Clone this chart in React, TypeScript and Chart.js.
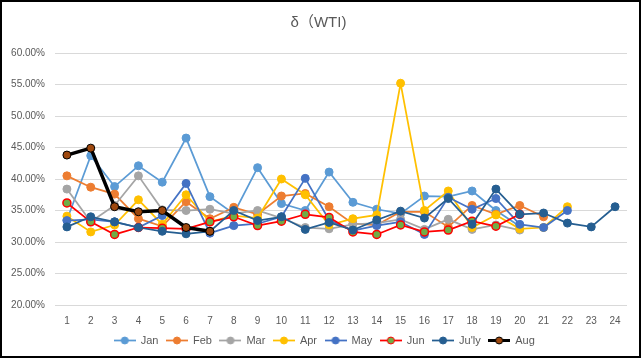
import React, { useEffect, useRef } from "react";
import { Chart, registerables } from "chart.js";

Chart.register(...registerables);

const categories = ["1","2","3","4","5","6","7","8","9","10","11","12","13","14","15","16","17","18","19","20","21","22","23","24"];

const jan = [33.5, 43.7, 38.8, 42.1, 39.5, 46.5, 37.2, 34.5, 41.8, 36.1, 35.0, 41.1, 36.3, 35.2, 34.5, 37.3, 37.2, 38.1, 35.0, 32.5];
const feb = [40.5, 38.7, 37.6, 33.7, 32.5, 36.4, 33.7, 35.5, 34.4, 37.3, 37.7, 35.6, 32.9, 32.7, 34.8, 34.8, 32.4, 35.8, 34.4, 35.8, 34.0];
const mar = [38.4, 33.2, 35.8, 40.5, 35.1, 35.0, 35.2, 34.5, 35.0, 33.8, 32.3, 32.1, 32.8, 33.0, 33.6, 32.0, 33.6, 32.0, 32.7, 31.9];
const apr = [34.1, 31.6, 32.7, 36.7, 32.8, 37.5, 33.2, 34.2, 33.8, 40.0, 37.5, 32.7, 33.7, 34.3, 55.2, 35.0, 38.1, 32.3, 34.3, 32.1, 32.3, 35.6];
const may = [33.4, 33.6, 33.2, 32.3, 34.2, 39.3, 31.4, 32.6, 32.9, 34.0, 40.1, 33.5, 31.8, 32.6, 33.2, 31.2, 37.1, 35.2, 36.9, 32.8, 32.3, 35.0];
const jun = [36.2, 33.2, 31.2, 32.3, 32.2, 32.1, 33.2, 34.0, 32.6, 33.3, 34.4, 33.9, 31.6, 31.2, 32.7, 31.6, 31.9, 33.3, 32.5, 34.4];
const jul = [32.4, 34.0, 33.2, 32.3, 31.7, 31.3, 31.7, 35.0, 33.4, 34.0, 32.0, 33.1, 31.9, 33.5, 34.9, 33.8, 36.9, 32.8, 38.4, 34.4, 34.6, 33.0, 32.4, 35.6];
const aug = [43.8, 44.9, 35.6, 34.8, 35.0, 32.3, 31.7];

const seriesLabels = ["Jan", "Feb", "Mar", "Apr", "May", "Jun", "Ju'ly", "Aug"];
const seriesValues = [jan, feb, mar, apr, may, jun, jul, aug];
const lineColors = ["#5B9BD5", "#ED7D31", "#A5A5A5", "#FFC000", "#4472C4", "#FF0000", "#255E91", "#000000"];
const markerFills = ["#5B9BD5", "#ED7D31", "#A5A5A5", "#FFC000", "#4472C4", "#70AD47", "#255E91", "#9E480E"];
const markerBorders = ["#5B9BD5", "#ED7D31", "#A5A5A5", "#FFC000", "#4472C4", "#FF0000", "#255E91", "#000000"];
const lineWidths = [1.75, 1.75, 1.75, 1.75, 1.75, 1.75, 1.75, 3.5];

const yMin = 20;
const yMax = 60;
const yStep = 5;

const FONT = "'Liberation Sans', 'Noto Sans', 'Noto Sans CJK SC', sans-serif";
const TEXT = "#595959";

function makeLegendImage(i: number): HTMLCanvasElement {
  const c = document.createElement("canvas");
  c.width = 22;
  c.height = 11;
  const ctx = c.getContext("2d")!;
  ctx.strokeStyle = lineColors[i];
  ctx.lineWidth = i === 7 ? 3 : 1.75;
  ctx.beginPath();
  ctx.moveTo(0, 5.5);
  ctx.lineTo(22, 5.5);
  ctx.stroke();
  ctx.beginPath();
  ctx.arc(11, 5.5, 3.5, 0, Math.PI * 2);
  ctx.fillStyle = markerFills[i];
  ctx.fill();
  ctx.lineWidth = 1;
  ctx.strokeStyle = markerBorders[i];
  ctx.stroke();
  return c;
}

export default function App() {
  const ref = useRef<HTMLCanvasElement>(null);

  useEffect(() => {
    if (!ref.current) return;
    const imgs = seriesLabels.map((_, i) => makeLegendImage(i));
    const frame = {
      id: "frame",
      beforeDraw(chart: any) {
        const ctx = chart.ctx;
        ctx.save();
        ctx.fillStyle = "#ffffff";
        ctx.fillRect(0, 0, chart.width, chart.height);
        ctx.restore();
      },
      afterLayout(chart: any) {
        if (chart.legend) {
          chart.legend.left += 11;
          chart.legend.right += 11;
        }
        if (chart.titleBlock) {
          chart.titleBlock.left += 5;
          chart.titleBlock.right += 5;
        }
      },
      afterDraw(chart: any) {
        const ctx = chart.ctx;
        ctx.save();
        ctx.strokeStyle = "#000000";
        ctx.lineWidth = 2;
        ctx.strokeRect(1, 1, 639, 356);
        ctx.restore();
      },
    };
    const chart = new Chart(ref.current, {
      type: "line",
      data: {
        labels: categories,
        datasets: seriesValues.map((vals, i) => ({
          label: seriesLabels[i],
          data: vals,
          borderColor: lineColors[i],
          backgroundColor: markerFills[i],
          borderWidth: lineWidths[i],
          pointRadius: 4,
          pointBorderWidth: i === 5 ? 1.5 : 1,
          pointBackgroundColor: markerFills[i],
          pointBorderColor: markerBorders[i],
          tension: 0,
          fill: false,
          order: 7 - i,
        })),
      },
      options: {
        animation: false,
        responsive: false,
        events: [],
        layout: { padding: { left: 0, right: 16, top: 0, bottom: 8 } },
        plugins: {
          title: {
            display: true,
            text: "δ（WTI)",
            color: TEXT,
            font: { family: FONT, size: 15, weight: "normal" },
            padding: { top: 14, bottom: 21 },
          },
          legend: {
            position: "bottom",
            labels: {
              color: TEXT,
              font: { family: FONT, size: 11 },
              usePointStyle: true,
              pointStyleWidth: 21,
              boxHeight: 11,
              padding: 8,
              generateLabels: () =>
                seriesLabels.map((t, i) => ({
                  text: t,
                  pointStyle: imgs[i] as any,
                  fillStyle: markerFills[i],
                  strokeStyle: lineColors[i],
                  lineWidth: 0,
                  hidden: false,
                  datasetIndex: i,
                  fontColor: TEXT,
                })),
            },
          },
          tooltip: { enabled: false },
        },
        scales: {
          x: {
            offset: true,
            grid: { display: false, drawTicks: false },
            border: { display: false },
            ticks: { color: TEXT, font: { family: FONT, size: 10 }, padding: 10, maxRotation: 0, autoSkip: false },
            afterFit: (s: any) => { s.height = 22; },
          },
          y: {
            min: yMin,
            max: yMax,
            grid: { color: "#D9D9D9", lineWidth: 1, drawTicks: false },
            border: { display: false },
            ticks: {
              stepSize: yStep,
              color: TEXT,
              font: { family: FONT, size: 10 },
              padding: 10,
              callback: (v: any) => Number(v).toFixed(2) + "%",
            },
            afterFit: (s: any) => { s.width = 55; },
          },
        },
      },
      plugins: [frame],
    });
    return () => chart.destroy();
  }, []);

  return (
    <div style={{ position: "absolute", left: 0, top: 0, width: 643, height: 364, background: "#fff" }}>
      <canvas ref={ref} width={643} height={364} style={{ display: "block", width: 643, height: 364 }} />
    </div>
  );
}
